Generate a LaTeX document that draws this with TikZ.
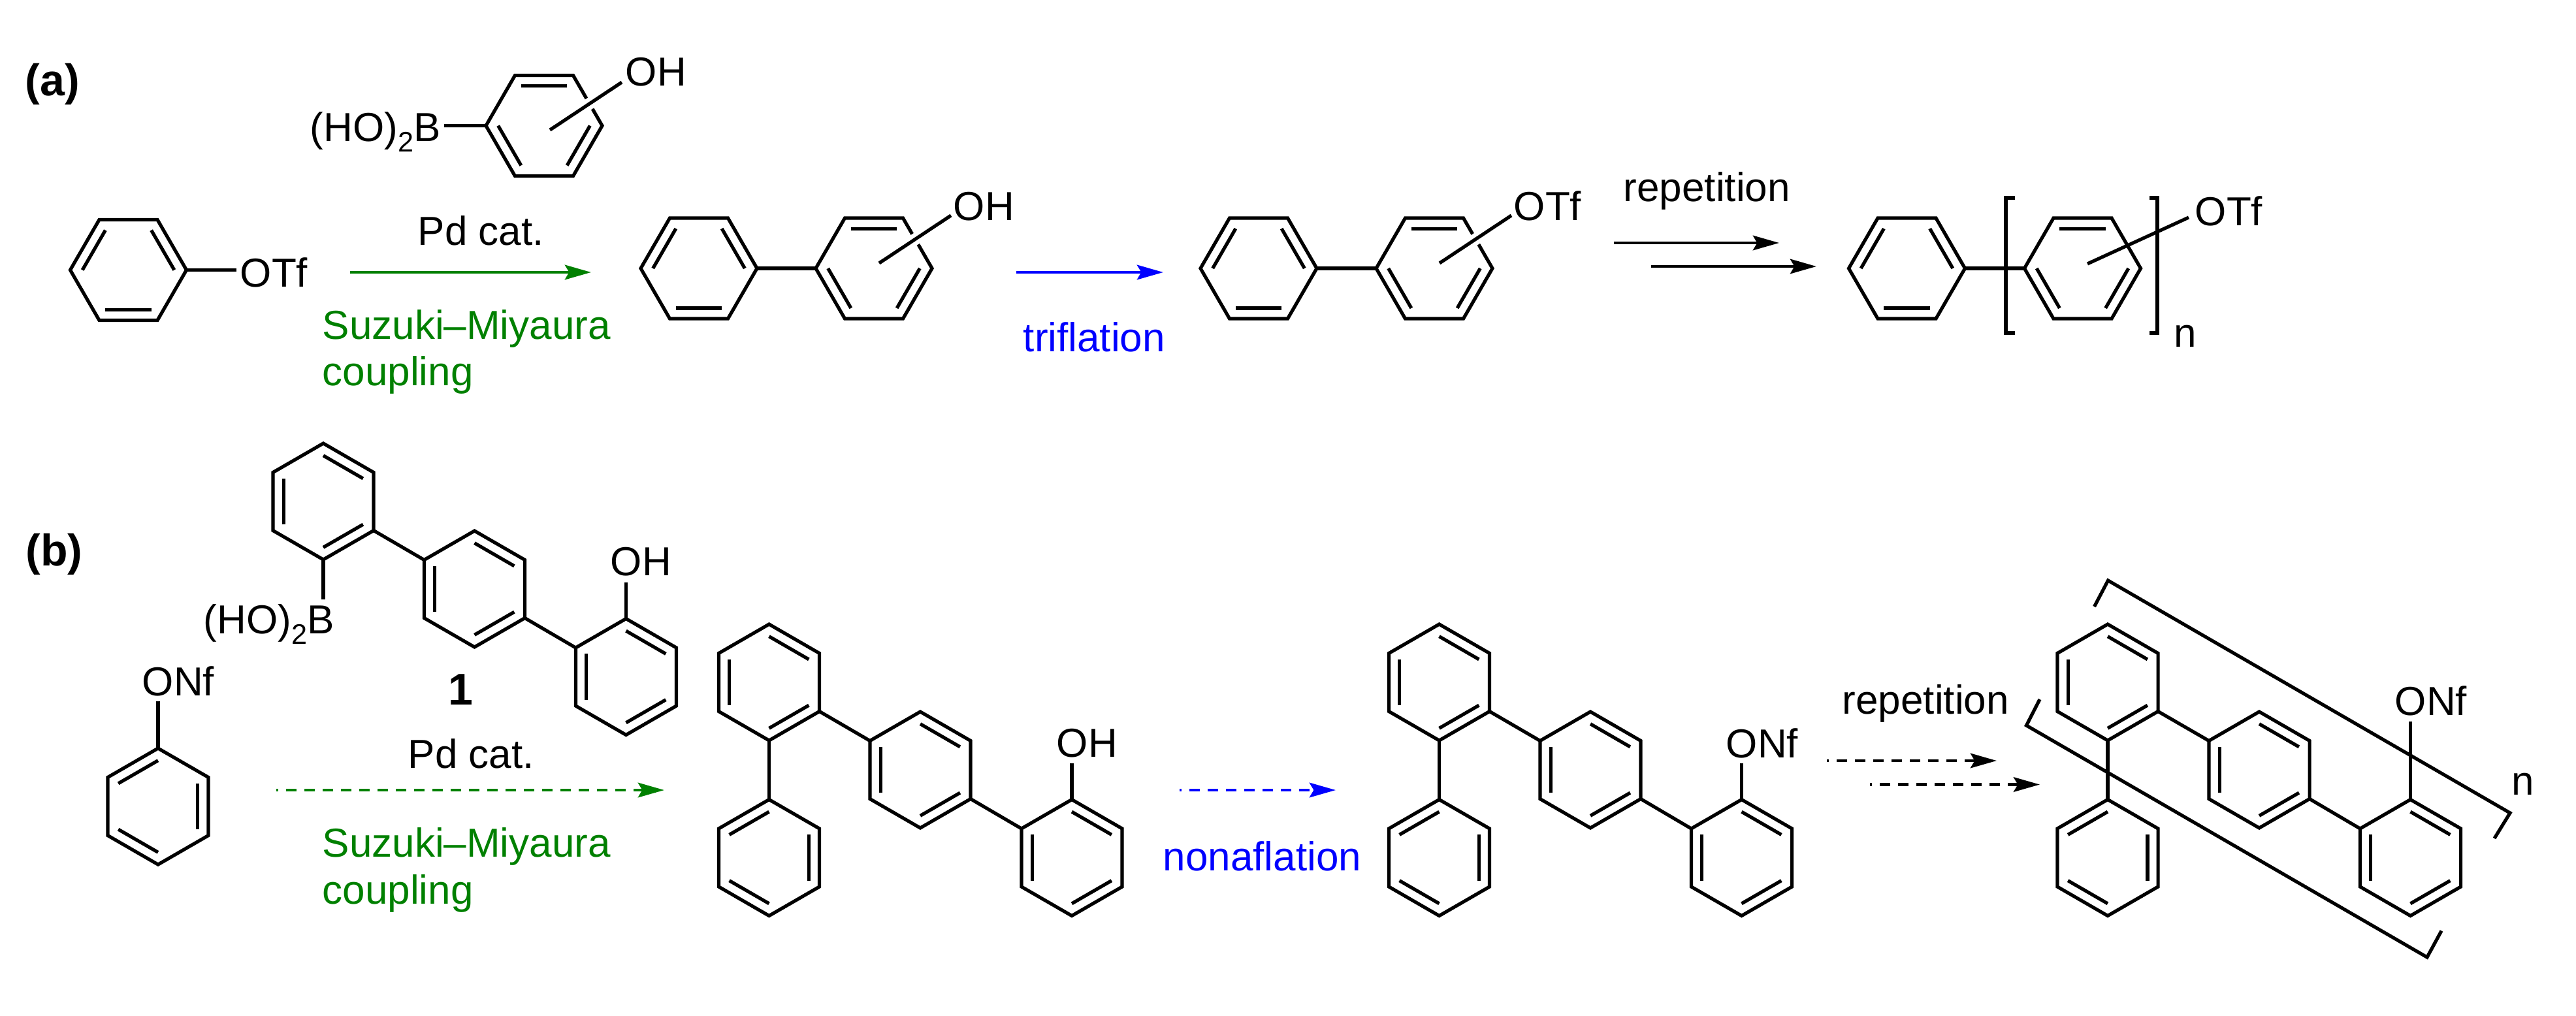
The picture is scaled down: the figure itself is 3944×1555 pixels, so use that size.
\documentclass[tikz,border=0pt]{standalone}
\usepackage{fontspec}
\setmainfont{Liberation Sans}
\usetikzlibrary{arrows.meta,calc,positioning}

\definecolor{cpgreen}{RGB}{0,128,0}
\definecolor{cpblue}{RGB}{0,0,255}

\tikzset{
	bond/.style={line width=1.3pt,line join=miter},
	halo/.style={preaction={draw,white,line width=4.5pt}},
	chem/.style={anchor=base west,inner sep=0pt,font=\fontsize{15.5}{17.9}\selectfont},
	tag/.style={anchor=base west,inner sep=0pt,font=\fontsize{17}{20}\selectfont\bfseries},
	rxn/.style={line width=1.2pt,-{Stealth[length=10pt,width=5.6pt,inset=1.6pt]}},
	dashrxn/.style={rxn,dash pattern=on 4pt off 3pt,dash phase=3.2pt}
}

% ring: name, centre, angle of first corner, double bonds
\newcommand{\ring}[4]{
	\coordinate (#1) at (#2);
	\foreach \k in {0,...,5}
		\coordinate (#1\k) at ($(#2)+(#3+60*\k:89)$);
	\draw[bond] (#10) -- (#11) -- (#12) -- (#13) -- (#14) -- (#15) -- cycle;
	\foreach \e/\f in #4
		\draw[bond] ($(#1)!0.79!(#1\e)$) -- ($(#1)!0.79!(#1\f)$);
}
\newcommand{\evenb}{0/1,2/3,4/5}
\newcommand{\oddb}{1/2,3/4,5/0}
\newcommand{\subtwo}{\raisebox{-4pt}{\fontsize{10.8}{12}\selectfont 2}}

\begin{document}
\begin{tikzpicture}[x=0.25pt,y=-0.25pt]
	\useasboundingbox (0,0) rectangle (3944,1555);

	% (a)
	\node[tag] (tagA) at (38,146) {(a)};
	\ring{pa}{196.5,413.5}{0}{\oddb}
	\node[chem] (otfA) at (367,439) {OTf};
	\coordinate (otfAb) at (362,413.5);
	\draw[bond] (pa0) -- (otfAb);

	\ring{ba}{833,192.5}{0}{\evenb}
	\node[chem] (boA) at (474,216) {(HO)\subtwo B};
	\node[chem] (ohA) at (957,131) {OH};
	\coordinate (boAb) at (680,192.5);
	\coordinate (ohAa) at (842,199);
	\coordinate (ohAb) at (952,126);
	\draw[bond] (ba3) -- (boAb);
	\draw[bond,halo] (ohAa) -- (ohAb);

	\coordinate (smA1) at (536,417);
	\coordinate (smA2) at (905,417);
	\draw[rxn,cpgreen] (smA1) -- (smA2);
	\node[chem] (pdA) at (639,375.5) {Pd cat.};
	\node[chem,cpgreen] (suA) at (493,519) {Suzuki--Miyaura};
	\node[chem,cpgreen] (cpA) at (493,590.5) {coupling};

	\ring{qa}{1070,411}{0}{\oddb}
	\ring{qb}{1338,411}{0}{\evenb}
	\draw[bond] (qa0) -- (qb3);
	\node[chem] (ohB) at (1459,337) {OH};
	\coordinate (ohBa) at (1346,403);
	\coordinate (ohBb) at (1456,330);
	\draw[bond,halo] (ohBa) -- (ohBb);

	\coordinate (trA1) at (1556,417);
	\coordinate (trA2) at (1781,417);
	\draw[rxn,cpblue] (trA1) -- (trA2);
	\node[chem,cpblue] (trA) at (1566,538) {triflation};

	\ring{ra}{1927,411}{0}{\oddb}
	\ring{rb}{2196,411}{0}{\evenb}
	\draw[bond] (ra0) -- (rb3);
	\node[chem] (otfB) at (2317,337) {OTf};
	\coordinate (otfBa) at (2204,403);
	\coordinate (otfBb) at (2314,330);
	\draw[bond,halo] (otfBa) -- (otfBb);

	\node[chem] (repA) at (2485,308) {repetition};
	\coordinate (repA1) at (2471,372);
	\coordinate (repA2) at (2724,372);
	\coordinate (repA3) at (2528,408);
	\coordinate (repA4) at (2781,408);
	\draw[rxn] (repA1) -- (repA2);
	\draw[rxn] (repA3) -- (repA4);

	\ring{sa}{2919.5,411}{0}{\oddb}
	\ring{sb}{3188.5,411}{0}{\evenb}
	\draw[bond] (sa0) -- (sb3);
	\draw[bond] (3085,303) -- (3071,303) -- (3071,510) -- (3085,510);
	\draw[bond] (3291,303) -- (3303,303) -- (3303,510) -- (3291,510);
	\node[chem] (otfC) at (3360,345) {OTf};
	\node[chem] (nA) at (3328,531.5) {n};
	\coordinate (otfCa) at (3196,404);
	\coordinate (otfCb) at (3351,333);
	\draw[bond] (otfCa) -- (otfCb);

	% (b)
	\node[tag] (tagB) at (39,866) {(b)};
	\ring{ta}{242,1235}{30}{\oddb}
	\node[chem] (onfA) at (217,1065) {ONf};
	\coordinate (onfAb) at (242,1074);
	\draw[bond] (ta4) -- (onfAb);

	\ring{ua}{495,768}{30}{\evenb}
	\ring{ub}{726.5,902}{30}{\evenb}
	\ring{uc}{958.5,1036.5}{30}{\evenb}
	\draw[bond] (ua0) -- (ub3);
	\draw[bond] (ub0) -- (uc3);
	\node[chem] (boB) at (311,970.5) {(HO)\subtwo B};
	\node[chem] (ohC) at (934,881) {OH};
	\node[tag] (cpd) at (686,1079) {1};
	\coordinate (boBb) at (495,918);
	\coordinate (ohCb) at (958.5,891.5);
	\draw[bond] (ua1) -- (boBb);
	\draw[bond] (uc4) -- (ohCb);

	\coordinate (smB1) at (423,1210);
	\coordinate (smB2) at (1017,1210);
	\draw[dashrxn,cpgreen] (smB1) -- (smB2);
	\node[chem] (pdB) at (624,1176) {Pd cat.};
	\node[chem,cpgreen] (suB) at (493,1312.5) {Suzuki--Miyaura};
	\node[chem,cpgreen] (cpB) at (493,1384) {coupling};

	\ring{va}{1177.5,1045}{30}{\evenb}
	\ring{vb}{1177.5,1313.5}{30}{\oddb}
	\ring{vc}{1409,1179}{30}{\evenb}
	\ring{vd}{1641,1313.5}{30}{\evenb}
	\draw[bond] (va1) -- (vb4);
	\draw[bond] (va0) -- (vc3);
	\draw[bond] (vc0) -- (vd3);
	\node[chem] (ohD) at (1617,1159) {OH};
	\coordinate (ohDb) at (1641,1168.5);
	\draw[bond] (vd4) -- (ohDb);

	\coordinate (noA1) at (1806,1210);
	\coordinate (noA2) at (2045,1210);
	\draw[dashrxn,cpblue] (noA1) -- (noA2);
	\node[chem,cpblue] (noA) at (1780,1333.5) {nonaflation};

	\ring{wa}{2203.5,1045}{30}{\evenb}
	\ring{wb}{2203.5,1313.5}{30}{\oddb}
	\ring{wc}{2435,1179}{30}{\evenb}
	\ring{wd}{2666.5,1313.5}{30}{\evenb}
	\draw[bond] (wa1) -- (wb4);
	\draw[bond] (wa0) -- (wc3);
	\draw[bond] (wc0) -- (wd3);
	\node[chem] (onfB) at (2642,1160) {ONf};
	\coordinate (onfBb) at (2666.5,1168.5);
	\draw[bond] (wd4) -- (onfBb);

	\node[chem] (repB) at (2820,1093.5) {repetition};
	\coordinate (repB1) at (2797,1165);
	\coordinate (repB2) at (3057,1165);
	\coordinate (repB3) at (2863,1201.5);
	\coordinate (repB4) at (3123,1201.5);
	\draw[dashrxn] (repB1) -- (repB2);
	\draw[dashrxn] (repB3) -- (repB4);

	\ring{xa}{3227,1045}{30}{\evenb}
	\ring{xb}{3227,1313.5}{30}{\oddb}
	\ring{xc}{3459,1179}{30}{\evenb}
	\ring{xd}{3690.5,1313.5}{30}{\evenb}
	\draw[bond] (xa1) -- (xb4);
	\draw[bond] (xa0) -- (xc3);
	\draw[bond] (xc0) -- (xd3);
	\node[chem] (onfC) at (3666,1095) {ONf};
	\coordinate (onfCb) at (3690.5,1104.5);
	\draw[bond] (xd4) -- (onfCb);
	\draw[bond] (3206.5,929) -- (3227.5,889) -- (3843,1245) -- (3819,1284);
	\draw[bond] (3123,1071) -- (3102.5,1111) -- (3716,1466) -- (3738,1425.5);
	\node[chem] (nB) at (3845,1217.5) {n};
\end{tikzpicture}
\end{document}
